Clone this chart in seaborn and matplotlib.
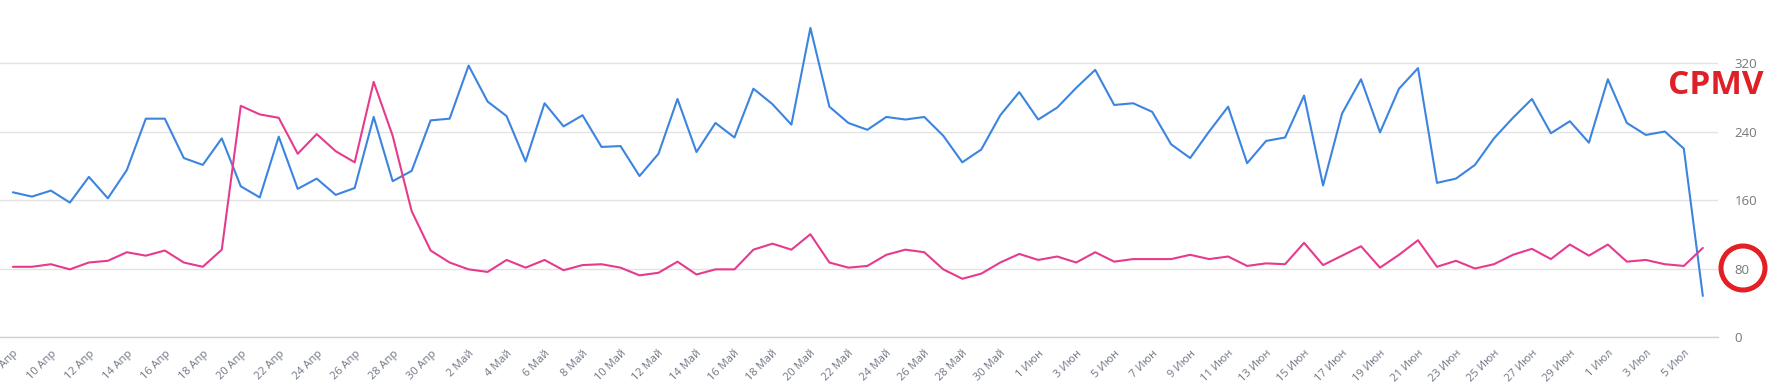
import matplotlib
matplotlib.use("Agg")
import matplotlib.pyplot as plt
from matplotlib.patches import Ellipse
import seaborn as sns
import pandas as pd

# daily values, 8 Apr .. 6 Jul
start_date = "2023-04-08"
blue_values = [
    169, 164, 171, 157, 187, 162, 195, 255, 255, 209,
    201, 232, 176, 163, 234, 173, 185, 166, 174, 257,
    182, 194, 253, 255, 317, 275, 258, 205, 273, 246,
    259, 222, 223, 188, 214, 278, 216, 250, 233, 290,
    272, 248, 361, 269, 250, 242, 257, 254, 257, 235,
    204, 219, 259, 286, 254, 268, 291, 312, 271, 273,
    263, 225, 209, 240, 269, 203, 229, 233, 282, 177,
    261, 301, 239, 290, 314, 180, 185, 201, 232, 256,
    278, 238, 252, 227, 301, 250, 236, 240, 220, 48,
]
pink_values = [
    82, 82, 85, 79, 87, 89, 99, 95, 101, 87,
    82, 102, 270, 260, 256, 214, 237, 217, 204, 298,
    235, 147, 101, 87, 79, 76, 90, 81, 90, 78,
    84, 85, 81, 72, 75, 88, 73, 79, 79, 102,
    109, 102, 120, 87, 81, 83, 96, 102, 99, 79,
    68, 74, 87, 97, 90, 94, 87, 99, 88, 91,
    91, 91, 96, 91, 94, 83, 86, 85, 110, 84,
    95, 106, 81, 96, 113, 82, 89, 80, 85, 96,
    103, 91, 108, 95, 108, 88, 90, 85, 83, 104,
]
y_ticks = [0, 80, 160, 240, 320]
month_names = {4: "Апр", 5: "Май", 6: "Июн", 7: "Июл"}

dates = pd.date_range(start_date, periods=len(blue_values), freq="D")
df = pd.DataFrame({"day": range(len(dates)), "blue": blue_values, "pink": pink_values})

sns.set_style("white")
plt.rcParams["font.family"] = ["Open Sans", "DejaVu Sans"]
fig = plt.figure(figsize=(17.74, 3.84), dpi=100)
ax = fig.add_axes([0.0, 47 / 384, 1718 / 1774, 337 / 384])

sns.lineplot(data=df, x="day", y="blue", ax=ax, color="#3b84e0", linewidth=1.5)
sns.lineplot(data=df, x="day", y="pink", ax=ax, color="#e63b8d", linewidth=1.5)

ax.set_xlim(-0.68, 89.8)
ax.set_ylim(0, 393.6)

tick_days = list(range(0, len(dates), 2))
tick_labels = [f"{dates[d].day} {month_names[dates[d].month]}" for d in tick_days]
ax.set_xticks(tick_days)
ax.set_xticklabels(tick_labels, rotation=45, ha="right", rotation_mode="anchor",
                   fontsize=8, color="#6f7684")
ax.tick_params(axis="x", length=6, width=1, color="#c9d2de", pad=2)

ax.yaxis.tick_right()
ax.set_yticks(y_ticks)
ax.set_yticklabels([str(v) for v in y_ticks], fontsize=9.5, color="#777777")
ax.tick_params(axis="y", length=0, pad=12)
ax.grid(axis="y", color="#e3e3e3", linewidth=1)
ax.set_axisbelow(True)

for side in ["top", "left", "right"]:
    ax.spines[side].set_visible(False)
ax.spines["bottom"].set_color("#c9d2de")
ax.spines["bottom"].set_linewidth(1)

ax.set_xlabel("")
ax.set_ylabel("")

fig.text(1716 / 1774, 1 - 85 / 384, "CPMV", fontsize=24, fontweight="bold",
         color="#e02027", ha="center", va="center")
fig.patches.append(Ellipse((1743 / 1774, 1 - 268 / 384), 44 / 1774, 44 / 384,
                           transform=fig.transFigure, fill=False,
                           edgecolor="#e31e24", linewidth=3.6))

fig.savefig("out.png", dpi=100)
